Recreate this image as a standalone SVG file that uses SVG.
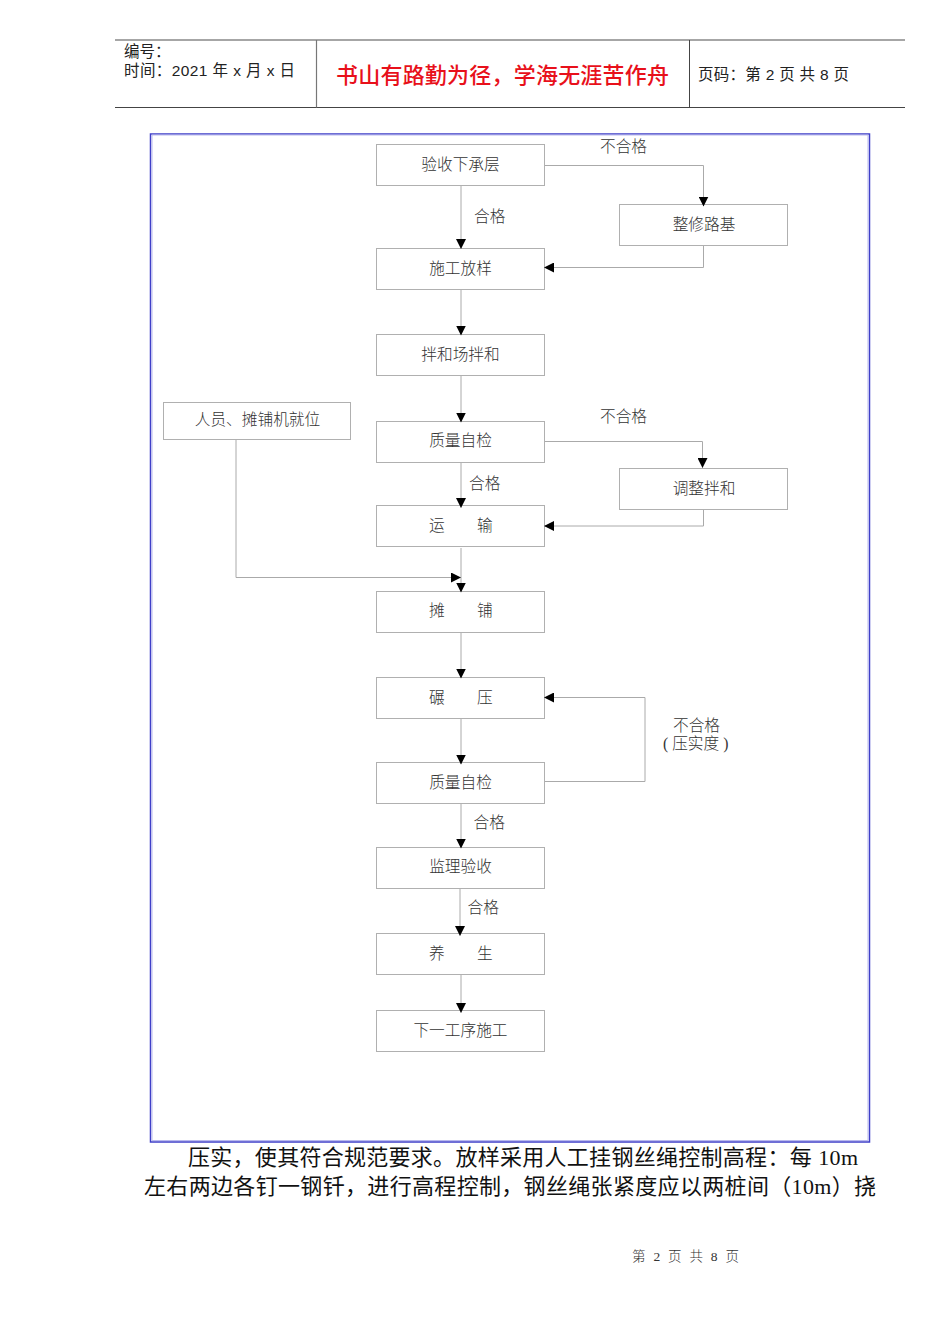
<svg xmlns="http://www.w3.org/2000/svg" width="950" height="1344" viewBox="0 0 950 1344">
<style>
text{font-family:"Liberation Sans","Noto Sans CJK SC",sans-serif;fill:#222}
.s{font-family:"Liberation Serif","Noto Sans CJK SC",serif;font-size:15.7px;fill:#333;font-weight:300}
.c{text-anchor:middle}
.b{fill:#fff;stroke:#b0b0b0;stroke-width:1}
.l{fill:none;stroke:#aaa;stroke-width:1}
.h{font-size:15.5px}
.p{font-size:22px;fill:#111}
</style>
<defs>
<marker id="a" markerUnits="userSpaceOnUse" markerWidth="10" markerHeight="10" refX="9.500" refY="5" orient="auto"><path d="M0 0L10 5L0 10z" fill="#000"/></marker>
</defs>
<rect width="950" height="1344" fill="#fff"/>
<g id="header">
<path d="M115 40H905" stroke="#888" stroke-width="1.500"/>
<path d="M115 107.500H905" stroke="#444" stroke-width="1"/>
<path d="M316.500 40V107.500" stroke="#777" stroke-width="1.200"/>
<path d="M689.500 40V107.500" stroke="#444" stroke-width="1"/>
<text class="h" x="124" y="57">编号：</text>
<text class="h" x="124" y="76" textLength="171">时间：2021 年 x 月 x 日</text>
<text x="336" y="83" font-size="22" font-weight="500" style="fill:#e8101a" textLength="333">书山有路勤为径，学海无涯苦作舟</text>
<text class="h" x="698" y="80" textLength="151">页码：第 2 页  共 8 页</text>
</g>
<g id="frame">
<rect x="150.500" y="134" width="719" height="1008" fill="none" stroke="#3f3fc8" stroke-width="1.500"/>
<rect x="152" y="135" width="716" height="1005.500" fill="none" stroke="#b9b9ee" stroke-width="1"/>
</g>
<g id="n1"><rect class="b" x="376.500" y="144.500" width="168" height="41"/><text class="s c" x="460.500" y="170">验收下承层</text></g>
<g id="n2"><rect class="b" x="376.500" y="248.500" width="168" height="41"/><text class="s c" x="460.500" y="274">施工放样</text></g>
<g id="n3"><rect class="b" x="619.500" y="204.500" width="168" height="41"/><text class="s c" x="704" y="230">整修路基</text></g>
<g id="n4"><rect class="b" x="376.500" y="334.500" width="168" height="41"/><text class="s c" x="460.500" y="360">拌和场拌和</text></g>
<g id="n5"><rect class="b" x="163.500" y="402.500" width="187" height="37"/><text class="s c" x="257.500" y="425">人员、摊铺机就位</text></g>
<g id="n6"><rect class="b" x="376.500" y="421.500" width="168" height="41"/><text class="s c" x="460.500" y="446">质量自检</text></g>
<g id="n7"><rect class="b" x="619.500" y="468.500" width="168" height="41"/><text class="s c" x="704" y="494">调整拌和</text></g>
<g id="n8"><rect class="b" x="376.500" y="505.500" width="168" height="41"/><text class="s" x="429" y="531">运</text><text class="s" x="477" y="531">输</text></g>
<g id="n9"><rect class="b" x="376.500" y="591.500" width="168" height="41"/><text class="s" x="429" y="616">摊</text><text class="s" x="477" y="616">铺</text></g>
<g id="n10"><rect class="b" x="376.500" y="677.500" width="168" height="41"/><text class="s" x="429" y="703">碾</text><text class="s" x="477" y="703">压</text></g>
<g id="n11"><rect class="b" x="376.500" y="762.500" width="168" height="41"/><text class="s c" x="460.500" y="788">质量自检</text></g>
<g id="n12"><rect class="b" x="376.500" y="847.500" width="168" height="41"/><text class="s c" x="460.500" y="872">监理验收</text></g>
<g id="n13"><rect class="b" x="376.500" y="933.500" width="168" height="41"/><text class="s" x="429" y="959">养</text><text class="s" x="477" y="959">生</text></g>
<g id="n14"><rect class="b" x="376.500" y="1010.500" width="168" height="41"/><text class="s c" x="460.500" y="1036">下一工序施工</text></g>
<g id="connectors">
<path class="l" d="M461 186V248.500" marker-end="url(#a)"/>
<path class="l" d="M545 165.500H703.500V206" marker-end="url(#a)"/>
<path class="l" d="M703.500 246V267.500H544.500" marker-end="url(#a)"/>
<path class="l" d="M461 290V335" marker-end="url(#a)"/>
<path class="l" d="M461 376V422" marker-end="url(#a)"/>
<path class="l" d="M545 441.500H702.500V467.500" marker-end="url(#a)"/>
<path class="l" d="M703.500 510V526H544.500" marker-end="url(#a)"/>
<path class="l" d="M461 463V507.500" marker-end="url(#a)"/>
<path class="l" d="M461 548V592" marker-end="url(#a)"/>
<path class="l" d="M236 440V577.500H460.500" marker-end="url(#a)"/>
<path class="l" d="M461 633V678" marker-end="url(#a)"/>
<path class="l" d="M461 719V764" marker-end="url(#a)"/>
<path class="l" d="M545 781.500H645V697.500H544.500" marker-end="url(#a)"/>
<path class="l" d="M461 804V848" marker-end="url(#a)"/>
<path class="l" d="M460 889V935.500" marker-end="url(#a)"/>
<path class="l" d="M461 975V1012.500" marker-end="url(#a)"/>
</g>
<g id="labels">
<text class="s" x="600" y="152">不合格</text>
<text class="s" x="474" y="222">合格</text>
<text class="s" x="600" y="422">不合格</text>
<text class="s" x="469" y="489">合格</text>
<text class="s" x="673" y="731">不合格</text>
<text class="s" x="663" y="749">( 压实度 )</text>
<text class="s" x="473.500" y="828">合格</text>
<text class="s" x="467.500" y="913">合格</text>
</g>
<g id="body">
<text class="p" x="188" y="1165" textLength="670">压实，使其符合规范要求。放样采用人工挂钢丝绳控制高程：每 <tspan font-family="Liberation Serif">10m</tspan></text>
<text class="p" x="144" y="1194" textLength="732">左右两边各钉一钢钎，进行高程控制，钢丝绳张紧度应以两桩间（<tspan font-family="Liberation Serif">10m</tspan>）挠</text>
</g>
<text id="footer" class="s" x="632" y="1261" style="font-size:13.5px" textLength="107">第 2 页 共 8 页</text>
</svg>
